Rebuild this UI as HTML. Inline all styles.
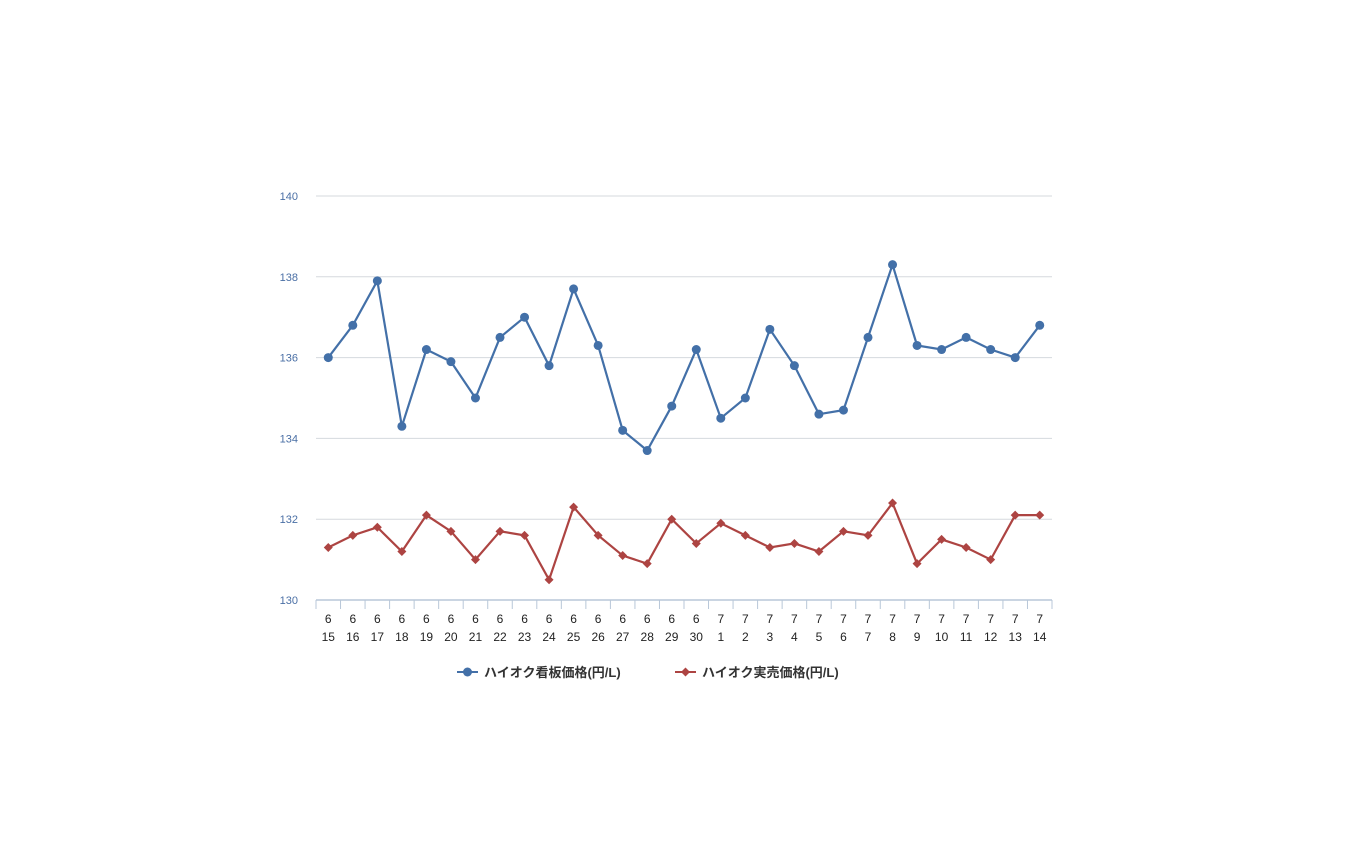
<!DOCTYPE html>
<html><head><meta charset="utf-8"><style>
html,body{margin:0;padding:0;background:#fff;}
svg{display:block;font-family:"Liberation Sans","Noto Sans CJK JP",sans-serif;}
</style></head><body>
<svg id="chart" width="1350" height="844"></svg>
<script>
const months=[6,6,6,6,6,6,6,6,6,6,6,6,6,6,6,6,7,7,7,7,7,7,7,7,7,7,7,7,7,7];
const days=[15,16,17,18,19,20,21,22,23,24,25,26,27,28,29,30,1,2,3,4,5,6,7,8,9,10,11,12,13,14];
const signPrice=[136.0,136.8,137.9,134.3,136.2,135.9,135.0,136.5,137.0,135.8,137.7,136.3,134.2,133.7,134.8,136.2,134.5,135.0,136.7,135.8,134.6,134.7,136.5,138.3,136.3,136.2,136.5,136.2,136.0,136.8];
const actualPrice=[131.3,131.6,131.8,131.2,132.1,131.7,131.0,131.7,131.6,130.5,132.3,131.6,131.1,130.9,132.0,131.4,131.9,131.6,131.3,131.4,131.2,131.7,131.6,132.4,130.9,131.5,131.3,131.0,132.1,132.1];
const yTicks=[130,132,134,136,138,140];
const NS="http://www.w3.org/2000/svg";
const svg=document.getElementById('chart');
const X0=316,X1=1052,Y0=600,Y1=196,YMIN=130,YMAX=140;
const n=days.length, step=(X1-X0)/n;
const xs=i=>X0+step*(i+0.5);
const ys=v=>Y0-(v-YMIN)/(YMAX-YMIN)*(Y0-Y1);
function mk(t,a,p){const e=document.createElementNS(NS,t);for(const k in a)e.setAttribute(k,a[k]);(p||svg).appendChild(e);return e;}
const grid=mk('g',{});


yTicks.forEach(v=>{
  if(v>YMIN){const l=mk('line',{x1:X0,x2:X1,y1:ys(v),y2:ys(v),stroke:'#d5d9de','stroke-width':1},grid);
  
  }
  const t=mk('text',{x:298,y:ys(v)+4,'text-anchor':'end','font-size':11,fill:'#4a6fa5'});
  t.textContent=v;
  
  
});
const ax=mk('line',{x1:X0,x2:X1,y1:Y0,y2:Y0,stroke:'#b8c7d8','stroke-width':1.5});


for(let i=0;i<=n;i++){const tk=mk('line',{x1:X0+step*i,x2:X0+step*i,y1:Y0,y2:Y0+9,stroke:'#b8c7d8','stroke-width':1});
  
  }
days.forEach((d,i)=>{
  const t1=mk('text',{x:xs(i),y:623,'text-anchor':'middle','font-size':12,fill:'#222'});
  t1.textContent=months[i];
  
  
  const t2=mk('text',{x:xs(i),y:641,'text-anchor':'middle','font-size':12,fill:'#222'});
  t2.textContent=d;
  
  
});
function series(vals,color,shape,name){
  const g=mk('g',{});
  
  
  mk('polyline',{points:vals.map((v,i)=>xs(i)+','+ys(v)).join(' '),fill:'none',stroke:color,'stroke-width':2.2},g);
  vals.forEach((v,i)=>{
    let m;
    if(shape==='circle')m=mk('circle',{cx:xs(i),cy:ys(v),r:4.5,fill:color},g);
    else{const x=xs(i),y=ys(v);m=mk('polygon',{points:`${x},${y-4.5} ${x+4.5},${y} ${x},${y+4.5} ${x-4.5},${y}`,fill:color},g);}
    
    
  });
}
series(signPrice,'#4370a8','circle','sign-price-series');
series(actualPrice,'#ad4442','diamond','actual-price-series');
function legend(x,color,shape,label,name){
  const g=mk('g',{});
  
  
  mk('line',{x1:x,x2:x+21,y1:672,y2:672,stroke:color,'stroke-width':2},g);
  if(shape==='circle')mk('circle',{cx:x+10.5,cy:672,r:4.5,fill:color},g);
  else mk('polygon',{points:`${x+10.5},667.5 ${x+15},672 ${x+10.5},676.5 ${x+6},672`,fill:color},g);
  const t=mk('text',{x:x+27,y:677,'font-size':13,fill:'#333','font-weight':'bold'},g);
  t.textContent=label;
}
legend(457,'#4370a8','circle','ハイオク看板価格(円/L)','legend-sign-price');
legend(675,'#ad4442','diamond','ハイオク実売価格(円/L)','legend-actual-price');
</script>
</body></html>
